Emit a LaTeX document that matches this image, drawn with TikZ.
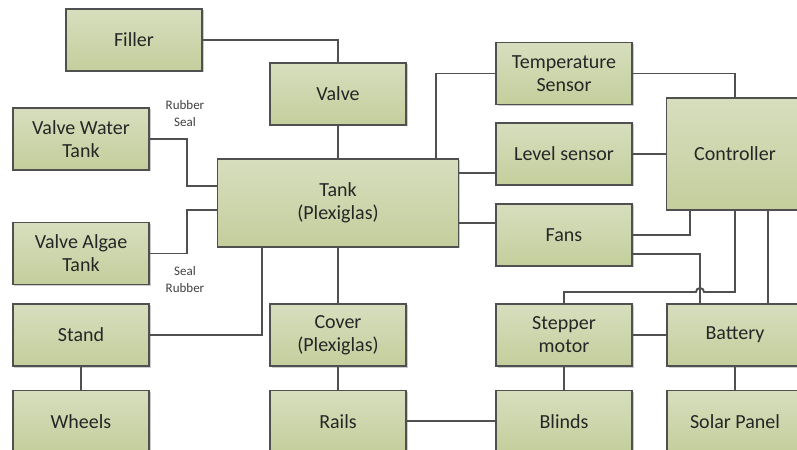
\documentclass[tikz,border=0pt]{standalone}
\usepackage{fontspec}
\setmainfont{Carlito}
\usetikzlibrary{positioning,shadows}

\definecolor{boxtop}{HTML}{D7DEBE}
\definecolor{boxbot}{HTML}{C4CE9C}
\definecolor{edgegray}{HTML}{505050}

\begin{document}
\begin{tikzpicture}[
    x = 1bp, y = -1bp, % pixel grid, y pointing down
    node distance = 23bp, % gap between rows
    font = \fontsize{20bp}{23bp}\selectfont,
    text = black!85
    ]

    \tikzset{block/.style={
    draw = edgegray,
    line width = 1.4bp,
    top color = boxtop,
    bottom color = boxbot,
    drop shadow = {shadow xshift=1.5bp, shadow yshift=-1.5bp, fill=black, opacity=0.2},
    minimum width = 136bp,
    minimum height = 62bp,
    inner sep = 0pt,
    align = center
    }}
    \tikzset{wire/.style={draw = edgegray, line width = 1.9bp}}
    \tikzset{seal/.style={align = center, font = \fontsize{13bp}{17bp}\selectfont, text = black!75}}

    \clip (0,0) rectangle (797,450);

    \node[block] (filler) at (134,40) {Filler};
    \node[block] (valve) at (338,94) {Valve};
    \node[block] (vwt) at (81,139) {Valve Water\\Tank};
    \node[block, minimum width=241bp, minimum height=88bp] (tank) at (338,203) {Tank\\(Plexiglas)};
    \node[block] (vat) at (81,253.5) {Valve Algae\\Tank};
    \node[block] (stand) at (81,335) {Stand};
    \node[block] (wheels) [below=of stand] {Wheels};
    \node[block] (cover) at (338,335) {Cover\\(Plexiglas)};
    \node[block] (rails) [below=of cover] {Rails};
    \node[block] (temp) at (564,73.5) {Temperature\\Sensor};
    \node[block] (level) at (564,154) {Level sensor};
    \node[block] (fans) at (564,235) {Fans};
    \node[block, minimum width=137bp, minimum height=112bp] (ctrl) at (735,154) {Controller};
    \node[block] (stepper) at (564,335) {Stepper\\motor};
    \node[block] (blinds) [below=of stepper] {Blinds};
    \node[block] (battery) at (735,335) {Battery};
    \node[block] (solar) [below=of battery] {Solar Panel};

    \node[seal] (sealtop) at (185,114) {Rubber\\Seal};
    \node[seal] (sealbot) at (185,280) {Seal\\Rubber};

    % tank side
    \draw[wire] (filler) -| (valve);
    \draw[wire] (valve) -- (tank);
    \draw[wire] (vwt.east) -- ++(37,0) |- ([yshift=17bp]tank.west);
    \draw[wire] (vat.east) -- ++(37,0) |- ([yshift=-7bp]tank.west);
    \draw[wire] (stand) -| ([xshift=-76bp]tank.south);
    \draw[wire] (stand) -- (wheels);
    \draw[wire] (tank) -- (cover);
    \draw[wire] (cover) -- (rails);
    \draw[wire] (rails) -- (blinds);

    % sensors and controller
    \draw[wire] ([xshift=98bp]tank.north) |- (temp);
    \draw[wire] (temp) -| (ctrl);
    \draw[wire] (level) -- (ctrl);
    \draw[wire] (tank.east |- 0,173) -- (level.west |- 0,173);
    \draw[wire] (tank.east |- 0,223) -- (fans.west |- 0,223);
    \draw[wire] (fans.east |- 0,235) -| ([xshift=-45bp]ctrl.south);
    \draw[wire] (fans.east |- 0,254) -| ([xshift=-35bp]battery.north);
    \draw[wire] (ctrl.south) |- (704,292) arc[start angle=0, end angle=180, radius=4bp] -| (stepper);
    \draw[wire] ([xshift=33bp]ctrl.south) -- ([xshift=33bp]battery.north);

    % power and blinds
    \draw[wire] (stepper) -- (battery);
    \draw[wire] (stepper) -- (blinds);
    \draw[wire] (battery) -- (solar);
\end{tikzpicture}
\end{document}
